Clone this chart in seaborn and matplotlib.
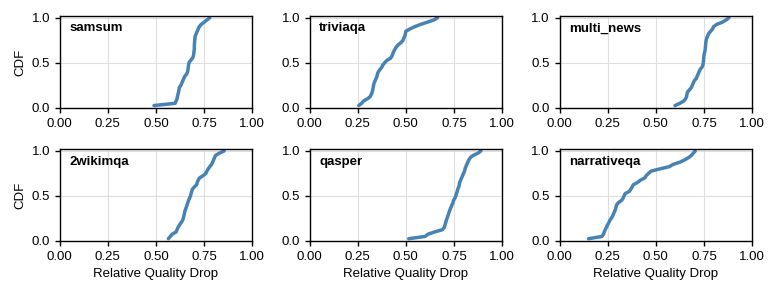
import numpy as np
import matplotlib
matplotlib.use("Agg")
import matplotlib.pyplot as plt
import seaborn as sns

datasets = ["samsum", "triviaqa", "multi_news", "2wikimqa", "qasper", "narrativeqa"]

samsum = [0.49, 0.60, 0.605, 0.61, 0.612, 0.615, 0.618, 0.62, 0.622, 0.63,
          0.635, 0.64, 0.645, 0.65, 0.66, 0.665, 0.667, 0.668, 0.67, 0.672,
          0.68, 0.69, 0.695, 0.697, 0.698, 0.70, 0.70, 0.70, 0.701, 0.702,
          0.703, 0.705, 0.71, 0.715, 0.72, 0.725, 0.735, 0.75, 0.765, 0.78]
triviaqa = [0.255, 0.27, 0.28, 0.30, 0.315, 0.32, 0.325, 0.328, 0.33, 0.332,
            0.335, 0.34, 0.345, 0.35, 0.352, 0.357, 0.365, 0.375, 0.38, 0.39,
            0.40, 0.42, 0.428, 0.432, 0.437, 0.443, 0.45, 0.46, 0.475, 0.485,
            0.49, 0.495, 0.498, 0.50, 0.52, 0.545, 0.575, 0.61, 0.645, 0.665]
multi_news = [0.60, 0.625, 0.645, 0.655, 0.66, 0.662, 0.665, 0.675, 0.685, 0.69,
              0.695, 0.70, 0.71, 0.715, 0.72, 0.725, 0.73, 0.74, 0.745, 0.747,
              0.748, 0.749, 0.75, 0.752, 0.755, 0.757, 0.758, 0.759, 0.76, 0.762,
              0.765, 0.77, 0.775, 0.785, 0.795, 0.80, 0.815, 0.845, 0.865, 0.88]
wikimqa = [0.565, 0.575, 0.585, 0.605, 0.61, 0.615, 0.622, 0.63, 0.638, 0.642,
           0.645, 0.648, 0.65, 0.654, 0.658, 0.662, 0.666, 0.67, 0.675, 0.68,
           0.683, 0.686, 0.69, 0.70, 0.712, 0.715, 0.72, 0.727, 0.745, 0.76,
           0.765, 0.772, 0.78, 0.79, 0.795, 0.80, 0.805, 0.81, 0.83, 0.855]
qasper = [0.515, 0.60, 0.615, 0.65, 0.69, 0.70, 0.703, 0.707, 0.71, 0.714,
          0.718, 0.722, 0.726, 0.73, 0.735, 0.74, 0.745, 0.748, 0.755, 0.76,
          0.763, 0.767, 0.77, 0.775, 0.778, 0.78, 0.785, 0.79, 0.795, 0.80,
          0.805, 0.808, 0.812, 0.817, 0.822, 0.828, 0.835, 0.85, 0.875, 0.89]
narrativeqa = [0.15, 0.22, 0.228, 0.232, 0.237, 0.243, 0.248, 0.255, 0.26, 0.268,
               0.275, 0.28, 0.285, 0.29, 0.293, 0.296, 0.305, 0.322, 0.33, 0.335,
               0.34, 0.362, 0.37, 0.377, 0.383, 0.405, 0.42, 0.443, 0.45, 0.462,
               0.475, 0.52, 0.57, 0.59, 0.625, 0.65, 0.67, 0.685, 0.695, 0.705]

values = [samsum, triviaqa, multi_news, wikimqa, qasper, narrativeqa]
xticks = [0.0, 0.25, 0.5, 0.75, 1.0]
yticks = [0.0, 0.5, 1.0]

FS = 9.5

sns.set_style("ticks")
plt.rcParams['font.family'] = ['Liberation Sans', 'DejaVu Sans']
plt.rcParams['font.size'] = FS
plt.rcParams['text.color'] = 'black'
plt.rcParams['axes.labelcolor'] = 'black'
plt.rcParams['xtick.color'] = 'black'
plt.rcParams['ytick.color'] = 'black'

fig, axes = plt.subplots(2, 3, figsize=(7.76, 2.96), dpi=100)
fig.subplots_adjust(left=0.077, right=0.969, top=0.946, bottom=0.186,
                    wspace=0.30, hspace=0.45)

for i, (ax, name, vals) in enumerate(zip(axes.flat, datasets, values)):
    v = np.sort(np.asarray(vals))
    cdf = np.arange(1, len(v) + 1) / len(v)
    sns.lineplot(x=v, y=cdf, ax=ax, color="#4682b4", linewidth=2.5,
                 estimator=None, sort=False)
    ax.set_xlim(0, 1)
    ax.set_ylim(0, 1.02)
    ax.set_xticks(xticks)
    ax.set_yticks(yticks)
    ax.set_xticklabels([f"{t:.2f}" for t in xticks], fontsize=FS)
    ax.set_yticklabels([f"{t:.1f}" for t in yticks], fontsize=FS)
    ax.grid(True, color="#dedede", linewidth=0.8)
    ax.set_axisbelow(True)
    for s in ax.spines.values():
        s.set_visible(True)
        s.set_color("black")
        s.set_linewidth(1.0)
    ax.tick_params(direction="out", length=3.5, width=1.0, pad=3.5,
                   colors="black")
    ax.text(0.05, 0.93, name, transform=ax.transAxes, fontsize=FS,
            fontweight="bold", va="top", ha="left", color="black")
    ax.set_xlabel("Relative Quality Drop" if i >= 3 else "", fontsize=FS,
                  color="black", labelpad=4)
    ax.set_ylabel("CDF" if i % 3 == 0 else "", fontsize=FS, color="black")

fig.savefig("out.png", dpi=100)
